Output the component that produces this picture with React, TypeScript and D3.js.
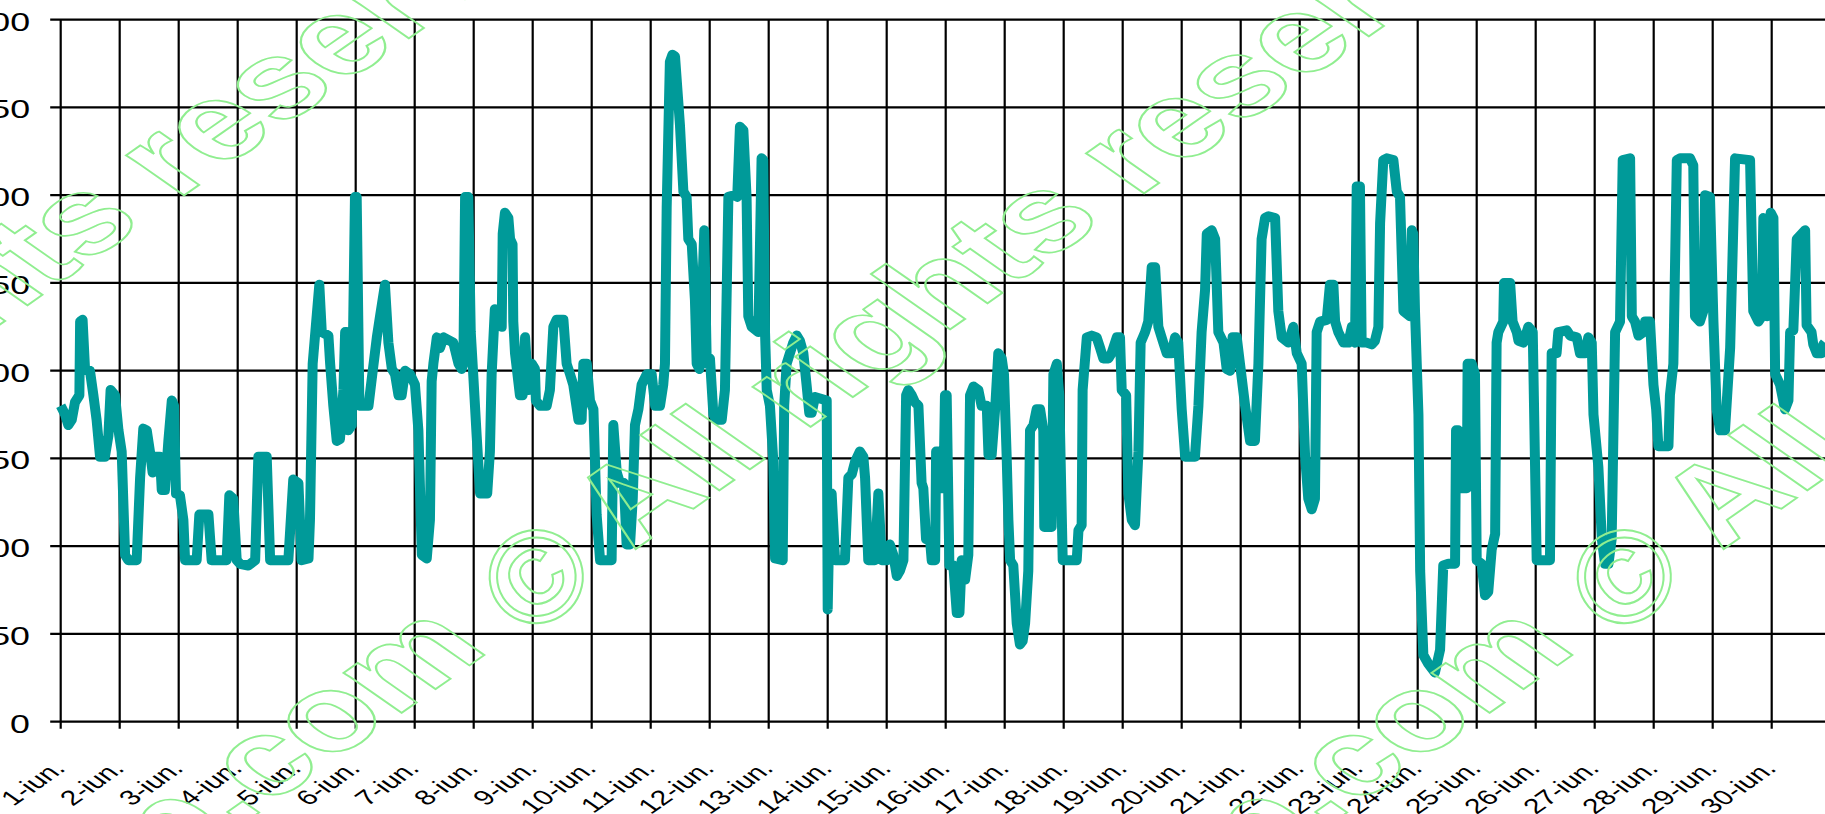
import React, { useEffect, useRef } from 'react';
import * as d3 from 'd3';

// hours since 1-iun. 00:00 and the reading at that hour
const hours = [
  0, 1.8, 3.1, 4.5, 5.8, 7.6, 7.9, 8.9, 9.9, 11.9, 13.3, 14.6, 16.0, 18.0, 19.4, 20.3, 22.1, 23.5,
  24.8, 26.2, 27.5, 30.9, 32.3, 33.6, 35.0, 36.3, 37.4, 38.4, 40.4, 41.1, 42.4, 43.8, 45.2, 46.1, 46.9,
  48.5, 49.9, 50.6, 55.3, 56.4, 60.1, 61.4, 67.5, 68.6, 70.2, 71.6, 72.9, 76.3, 79.1, 80.4, 83.8, 85.2,
  92.6, 94.6, 96.7, 98.0, 100.8, 101.4, 102.5, 105.2, 106.2, 108.9, 109.6, 110.9, 112.3, 113.6, 115.0,
  115.7, 116.3, 117.0, 118.4, 119.7, 120.4, 121.5, 125.2, 126.5, 128.6, 129.9, 131.9, 133.3, 134.7,
  136.0, 137.4, 138.7, 140.1, 142.1, 144.1, 145.5, 146.9, 148.9, 150.2, 150.9, 151.6, 153.0, 154.3,
  155.7, 159.7, 161.8,
  163.1, 163.8, 164.5, 165.8, 166.8, 167.8, 169.2, 170.6, 173.5, 174.6, 175.3, 176.6, 178.7, 179.4,
  179.8, 180.7, 182.1, 182.8, 183.8, 184.1, 184.8, 186.8, 187.9, 188.9, 190.2, 191.6, 192.9, 193.3,
  195.0, 197.7, 199.0, 200.4, 201.7, 204.5, 205.8, 207.2, 208.5, 210.6, 211.9, 212.6, 214.0, 215.3,
  216.7, 218.0, 219.4, 224.1, 224.8, 226.2, 227.5, 229.1, 230.2, 231.6, 232.7, 233.6, 235.0, 236.3,
  238.4, 240.4, 241.8, 243.8, 245.1, 245.8, 246.5, 247.8, 248.8, 249.9, 251.9, 253.3, 254.6, 255.3,
  256.7, 258.0, 258.7, 259.8, 260.7, 261.8, 262.8, 264.1, 265.5, 266.8, 268.9, 270.2, 271.6, 274.3,
  275.2, 276.3, 277.7, 279.0, 279.7, 281.1, 283.8, 285.1, 285.8, 286.5, 287.2, 288.5, 289.9, 290.6,
  293.7, 294.3, 295.3, 298.0, 299.4, 300.7, 302.1, 303.4, 304.5, 305.5, 306.8, 311.6, 312.0, 312.9,
  313.6, 315.0, 319.0, 320.4, 321.8, 323.1, 325.1, 326.5, 327.2, 328.5, 331.2, 332.6, 334.0, 336.0,
  337.3, 338.7, 340.1, 341.4, 342.8, 343.9,
  344.8, 346.2, 347.5, 348.9, 350.2, 350.9, 352.0, 353.6, 354.3, 355.7, 356.1, 357.0, 358.0, 359.1,
  359.7, 360.4, 361.5, 363.1, 364.5, 365.6, 366.5, 367.9, 369.2, 369.9, 371.3, 373.3, 374.6, 376.7,
  377.4, 378.7, 380.1, 381.4, 382.8, 383.7, 384.8, 385.5, 386.2, 387.5, 388.9, 390.2, 391.3, 392.3,
  393.6, 394.3, 395.7, 397.0, 398.4, 399.7, 400.1, 403.1, 403.8, 405.2, 406.2, 407.6, 413.3, 414.0,
  415.3, 415.7, 417.4, 419.4, 421.4, 422.8, 424.1, 426.2, 427.5, 429.6, 430.9, 431.6, 433.4, 434.3,
  435.7, 437.0, 438.4, 439.3, 441.1, 442.4, 443.8, 445.2, 446.5, 448.5, 449.9, 451.9, 453.3, 454.6,
  456.0, 457.4, 461.4, 462.8, 464.1, 465.5, 466.2, 468.2, 469.6, 470.9, 473.0, 474.3, 475.7, 476.7,
  478.4, 479.7, 481.8, 483.8, 485.8, 487.2, 488.5, 489.9, 491.3, 494.0, 495.3, 496.7, 499.4, 501.4,
  502.8, 504.8, 506.2, 507.5, 508.9, 510.2, 510.9, 512.3, 515.0, 516.3, 517.7, 518.4, 519.7, 521.8,
  523.8, 525.2, 526.5, 527.2,
  528.5, 529.2, 531.2, 533.3, 534.6, 536.0, 536.7, 538.0, 539.4, 542.1, 543.5, 544.8, 546.2, 548.9,
  549.6, 550.2, 550.9, 552.3, 553.0, 554.3, 556.3, 559.0, 561.1, 562.4, 564.5, 567.2, 567.6, 568.5,
  569.9, 572.0, 572.3, 574.0, 575.3, 576.0, 578.0, 579.4, 580.7, 582.1, 583.5, 584.1, 584.8, 586.8,
  587.1, 589.6, 590.6, 592.3, 593.0, 595.0, 597.0, 598.8, 600.4, 605.8, 606.5, 608.5, 609.2, 612.6,
  614.0, 616.7, 618.0, 620.1, 621.4, 622.8, 623.5, 625.5, 626.9, 628.2, 629.6, 630.9, 632.3, 634.3,
  635.4, 638.4, 639.1, 640.4, 641.8, 643.8, 644.5, 646.5, 647.9, 649.0, 649.9, 654.0, 654.6, 656.0,
  657.4, 658.7, 662.8, 664.1, 664.8, 666.8, 668.2, 668.9, 670.9, 672.3, 673.6, 675.0, 677.0, 679.1,
  681.1, 687.2, 688.5, 690.6, 692.0, 692.6, 693.7, 694.2, 695.6, 696.7, 697.4, 699.4, 701.4, 702.8,
  703.5, 704.8, 706.2, 709.6, 710.2, 712.2, 712.9, 714.3, 716.3, 717.0, 717.6,
];

const values = [
  180, 175, 169, 172, 182, 186, 228, 229, 201, 200, 186, 172, 151, 151, 163, 189, 186, 166,
  154, 95, 92, 92, 139, 167, 166, 154, 142, 151, 151, 132, 132, 160, 183, 180, 130,
  129, 115, 92, 92, 118, 118, 92, 92, 129, 127, 92, 90, 89, 92, 151, 151, 92,
  92, 138, 136, 92, 93, 115, 204, 249, 222, 220, 204, 180, 160, 161, 189,
  222, 222, 166, 169, 299, 299, 180, 180, 195, 219, 231, 249, 216, 201,
  198, 186, 186, 200, 198, 192, 166, 95, 93, 115, 194, 204, 219, 213,
  219, 216, 204,
  201, 204, 299, 299, 222, 198, 163, 130, 130, 154, 198, 235, 234, 225,
  278, 290, 287, 275, 272, 228, 210, 186, 186, 219, 189, 204, 201, 183,
  180, 180, 189, 225, 229, 229, 204, 198, 192, 172, 172, 204, 204, 183,
  178, 118, 92, 92, 169, 142, 136, 136, 101, 101, 127, 169, 178, 192,
  198, 198, 180, 180, 192, 204, 293, 376, 380, 379, 340, 302, 299, 275,
  272, 240, 204, 201, 234, 280, 204, 207, 175, 172, 172, 189, 299, 300,
  299, 339, 337, 299, 231, 225, 222, 321, 320, 222, 189, 180, 148, 93,
  92, 180, 204, 216, 220, 217, 210, 192, 176, 176, 185, 183, 64, 130,
  130, 92, 92, 139, 141, 148, 154, 151, 139, 92, 92, 130, 92, 92,
  101, 95, 83, 86, 92, 186,
  189, 186, 182, 180, 136, 133, 104, 104, 92, 92, 154, 154, 133, 133,
  186, 186, 89, 89, 62, 62, 92, 81, 95, 186, 191, 189, 180, 180,
  152, 152, 178, 210, 207, 198, 151, 115, 92, 89, 56, 44, 46, 56,
  86, 166, 169, 178, 178, 166, 111, 111, 198, 204, 186, 92, 92, 109,
  112, 189, 219, 220, 219, 213, 207, 207, 210, 219, 219, 189, 186, 130,
  115, 112, 154, 216, 222, 228, 259, 259, 225, 216, 210, 210, 219, 216,
  178, 151, 151, 180, 222, 246, 278, 280, 275, 222, 216, 201, 200, 219,
  219, 204, 180, 160, 160, 204, 275, 287, 288, 287, 234, 219, 216, 225,
  210, 204, 151, 127, 121, 127, 222, 228, 229, 249, 249, 228, 222, 216,
  216, 225, 216, 305,
  305, 216, 216, 215, 217, 225, 284, 320, 321, 320, 302, 299, 234, 231,
  280, 278, 234, 175, 86, 38, 33, 28, 41, 89, 90, 90, 166, 166,
  133, 133, 204, 204, 198, 92, 90, 72, 74, 98, 107, 216, 222, 228,
  250, 250, 228, 222, 217, 216, 225, 222, 92, 92, 210, 210, 222, 223,
  220, 219, 210, 210, 219, 216, 175, 145, 104, 90, 90, 104, 222, 228,
  320, 321, 231, 228, 220, 222, 228, 228, 192, 178, 157, 157, 186, 204,
  320, 321, 321, 317, 231, 228, 234, 300, 299, 228, 178, 166, 166, 213,
  321, 320, 234, 228, 231, 287, 284, 231, 290, 287, 198, 192, 178, 183,
  222, 223, 275, 280, 226, 222, 215, 210, 210, 215, 216,
];

const dayLabels = d3.range(1, 31).map(d => `${d}-iun.`);
const yTicks = [0, 50, 100, 150, 200, 250, 300, 350, 400];

const WIDTH = 1825;
const HEIGHT = 814;
const FONT = '"Liberation Sans", Arial, sans-serif';

const App: React.FC = () => {
  const svgRef = useRef<SVGSVGElement>(null);

  useEffect(() => {
    if (!svgRef.current) return;
    const svg = d3.select(svgRef.current);
    svg.selectAll('*').remove();

    const left = 60.7;
    const top = 19.7;
    const bottom = 721.7;
    const stretch = 1.43; // the picture is widened, text included

    const x = d3.scaleLinear().domain([0, 29 * 24]).range([left, 1771.7]);
    const y = d3.scaleLinear().domain([0, 400]).range([bottom, top]);

    svg.append('rect').attr('width', WIDTH).attr('height', HEIGHT).attr('fill', '#fff');

    const grid = svg.append('g').attr('stroke', '#000').attr('stroke-width', 2.2);

    // horizontal grid lines (they also make the y ticks)
    grid.selectAll('line.h')
      .data(yTicks)
      .join('line')
      .attr('class', 'h')
      .attr('x1', left - 10.5)
      .attr('x2', WIDTH)
      .attr('y1', d => y(d))
      .attr('y2', d => y(d));

    // vertical grid lines, one per day
    grid.selectAll('line.v')
      .data(dayLabels)
      .join('line')
      .attr('class', 'v')
      .attr('x1', (_, i) => x(i * 24))
      .attr('x2', (_, i) => x(i * 24))
      .attr('y1', top)
      .attr('y2', bottom + 7);

    // y labels
    svg.append('g')
      .selectAll('text')
      .data(yTicks)
      .join('text')
      .attr('transform', d => `translate(30,${y(d) + 10.8}) scale(${stretch},1)`)
      .attr('text-anchor', 'end')
      .style('font-family', FONT)
      .style('font-size', '25px')
      .attr('fill', '#000')
      .text(d => d);

    // x labels, rotated then widened like the rest of the picture
    svg.append('g')
      .selectAll('text')
      .data(dayLabels)
      .join('text')
      .attr('transform', (_, i) => `translate(${x(i * 24) + 6},${bottom + 48}) scale(${stretch},1) rotate(-45)`)
      .attr('text-anchor', 'end')
      .style('font-family', FONT)
      .style('font-size', '21px')
      .attr('fill', '#000')
      .text(d => d);

    // data line
    const line = d3.line<number>()
      .x((_, i) => x(hours[i]))
      .y(d => y(d));

    svg.append('path')
      .datum(values)
      .attr('fill', 'none')
      .attr('stroke', '#009a99')
      .attr('stroke-width', 10)
      .attr('stroke-linejoin', 'round')
      .attr('d', line);

    // watermark: text origin (foot of the "A") and centre of the ©
    const marks = [
      { ox: 633, oy: 551, cx: 535, cy: 575 },
      { ox: 1721, oy: 551, cx: 1623, cy: 575 },
      { ox: -327, oy: 553, cx: -425, cy: 575 },
    ];
    const fs = 108;
    const wm = svg.append('g')
      .attr('fill', 'none')
      .attr('stroke', '#90ee90')
      .attr('stroke-width', 2)
      .style('font-family', FONT)
      .style('font-weight', 'bold');

    marks.forEach(({ ox, oy, cx, cy }) => {
      const g = wm.append('g')
        .attr('transform', `translate(${ox},${oy}) scale(${stretch},1) rotate(-45)`)
        .style('font-size', `${fs}px`);
      g.append('text')
        .attr('vector-effect', 'non-scaling-stroke')
        .attr('text-anchor', 'start')
        .text('All rights reserved');
      g.append('text')
        .attr('vector-effect', 'non-scaling-stroke')
        .attr('text-anchor', 'end')
        .attr('x', -fs * 1.3)
        .text('p.com');
      wm.append('text')
        .attr('transform', `translate(${cx},${cy}) rotate(-40)`)
        .attr('text-anchor', 'middle')
        .attr('y', 132 * 0.36)
        .style('font-size', '132px')
        .text('©');
    });
  }, []);

  return (
    <div style={{ position: 'absolute', left: 0, top: 0 }}>
      <svg ref={svgRef} width={WIDTH} height={HEIGHT}></svg>
    </div>
  );
};

export default App;
